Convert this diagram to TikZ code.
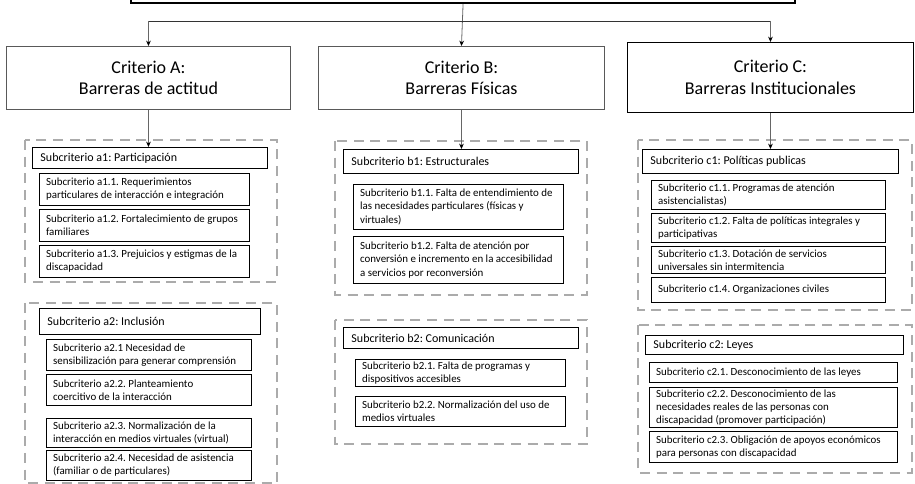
\documentclass[tikz,border=0pt]{standalone}
\usepackage{fontspec}
\setmainfont{Carlito}
\frenchspacing
\usetikzlibrary{arrows.meta, positioning}
\tikzstyle{raiz} = [
    rectangle, draw=black, line width=1.6pt, minimum width=498pt, minimum height=40pt
]
\tikzstyle{criterio} = [
    rectangle, anchor=north west, align=center, draw=black!65, line width=0.7pt,
    font=\fontsize{13.5}{16}\selectfont
]
\tikzstyle{grupo} = [draw=black!33, line width=2.1pt, dash pattern=on 7.5pt off 5pt]
\tikzstyle{cabeza} = [
    rectangle, anchor=north west, align=flush left, draw=black, line width=0.7pt,
    inner xsep=6pt, inner ysep=1pt, font=\fontsize{9}{11}\selectfont
]
\tikzstyle{item} = [
    rectangle, anchor=north west, align=flush left, draw=black, line width=0.6pt,
    inner xsep=5pt, inner ysep=1pt, font=\fontsize{8.2}{9.9}\selectfont
]
\tikzstyle{arrow} = [draw=black!60, line width=0.6pt, -{Stealth[black, length=4pt, width=3.5pt]}]

\begin{document}
\begin{tikzpicture}[x=0.75pt, y=-0.75pt]
\useasboundingbox (0,0) rectangle (915,484);
\clip (0,0) rectangle (915,484);

% Raiz (cortada arriba)
\node (raiz) [raiz, anchor=south west] at (130,4) {};
\coordinate (bus) at (0,21);

% Fila de criterios
\node (critA) [criterio, minimum width=213pt, minimum height=47.25pt] at (6,46)
    {Criterio A:\\ Barreras de actitud};
\node (critB) [criterio, minimum width=214.5pt, minimum height=47.25pt] at (318,46)
    {Criterio B:\\ Barreras Físicas};
\node (critC) [criterio, draw=black, minimum width=214.5pt, minimum height=52.5pt] at (627,42)
    {Criterio C:\\ Barreras Institucionales};

% Grupos punteados
\draw [grupo] (25,140) rectangle (277,282);
\draw [grupo] (25,303) rectangle (277,483);
\draw [grupo] (335,141) rectangle (587,295);
\draw [grupo] (335,320) rectangle (587,444);
\draw [grupo] (638,140) rectangle (912,310);
\draw [grupo] (638,325) rectangle (912,473);

% Columna A
\node (a1)  [cabeza, text width=164.25pt, minimum height=15.75pt] at (32,147)  {Subcriterio a1: Participación};
\node (a11) [item, text width=147.5pt, minimum height=24pt] at (39,173)
    {Subcriterio a1.1. Requerimientos\\ particulares de interacción e integración};
\node (a12) [item, text width=147.5pt, minimum height=24pt] at (39,209)
    {Subcriterio a1.2. Fortalecimiento de grupos\\ familiares};
\node (a13) [item, text width=147.5pt, minimum height=24pt] at (39,245)
    {Subcriterio a1.3. Prejuicios y estigmas de la\\ discapacidad};
\node (a2)  [cabeza, text width=153.75pt, minimum height=19.5pt] at (39,308) {Subcriterio a2: Inclusión};
\node (a21) [item, text width=143.75pt, minimum height=23.25pt] at (46,339)
    {Subcriterio a2.1 Necesidad de\\ sensibilización para generar comprensión};
\node (a22) [item, text width=143.75pt, minimum height=23.25pt] at (46,374)
    {Subcriterio a2.2. Planteamiento\\ coercitivo de la interacción};
\node (a23) [item, text width=143.75pt, minimum height=21.75pt] at (46,418)
    {Subcriterio a2.3. Normalización de la\\ interacción en medios virtuales (virtual)};
\node (a24) [item, text width=143.75pt, minimum height=22.5pt] at (46,450)
    {Subcriterio a2.4. Necesidad de asistencia\\ (familiar o de particulares)};

% Columna B
\node (b1)  [cabeza, text width=164.25pt, minimum height=18pt] at (343,149) {Subcriterio b1: Estructurales};
\node (b11) [item, text width=147.5pt, minimum height=33.75pt] at (353,184)
    {Subcriterio b1.1. Falta de entendimiento de\\ las necesidades particulares (físicas y\\ virtuales)};
\node (b12) [item, text width=147.5pt, minimum height=35.25pt] at (353,236)
    {Subcriterio b1.2. Falta de atención por\\ conversión e incremento en la accesibilidad\\ a servicios por reconversión};
\node (b2)  [cabeza, text width=164.25pt, minimum height=15.75pt] at (343,327) {Subcriterio b2: Comunicación};
\node (b21) [item, text width=147.5pt, minimum height=20.25pt] at (355,359)
    {Subcriterio b2.1. Falta de programas y\\ dispositivos accesibles};
\node (b22) [item, text width=147.5pt, minimum height=22.5pt] at (355,396)
    {Subcriterio b2.2. Normalización del uso de\\ medios virtuales};

% Columna C
\node (c1)  [cabeza, text width=180pt, minimum height=18pt] at (642,149) {Subcriterio c1: Políticas publicas};
\node (c11) [item, text width=165.5pt, minimum height=21.75pt] at (651,180)
    {Subcriterio c1.1. Programas de atención\\ asistencialistas)};
\node (c12) [item, text width=165.5pt, minimum height=21.75pt] at (651,213)
    {Subcriterio c1.2. Falta de políticas integrales y\\ participativas};
\node (c13) [item, text width=165.5pt, minimum height=20.25pt] at (651,246)
    {Subcriterio c1.3. Dotación de servicios\\ universales sin intermitencia};
\node (c14) [item, text width=165.5pt, minimum height=18.75pt] at (651,277)
    {Subcriterio c1.4. Organizaciones civiles};
\node (c2)  [cabeza, text width=181.5pt, minimum height=14.25pt] at (645,335) {Subcriterio c2: Leyes};
\node (c21) [item, text width=176pt, minimum height=15pt] at (649,362)
    {Subcriterio c2.1. Desconocimiento de las leyes};
\node (c22) [item, text width=176pt, minimum height=30pt] at (649,387)
    {Subcriterio c2.2. Desconocimiento de las\\ necesidades reales de las personas con\\ discapacidad (promover participación)};
\node (c23) [item, text width=176pt, minimum height=23.25pt] at (649,431)
    {Subcriterio c2.3. Obligación de apoyos económicos\\ para personas con discapacidad};

% Flechas
\draw [arrow] (raiz.south) -- (critB.north);
\draw [black!80, line width=0.6pt] (critA.north |- bus) -- (critC.north |- bus);
\draw [arrow] (critA.north |- bus) -- (critA.north);
\draw [arrow] (critC.north |- bus) -- (critC.north);
\draw [arrow] (critA.south) -- (critA.south |- a1.north);
\draw [arrow] (critB.south) -- (critB.south |- b1.north);
\draw [arrow] (critC.south) -- (critC.south |- c1.north);

\end{tikzpicture}
\end{document}
